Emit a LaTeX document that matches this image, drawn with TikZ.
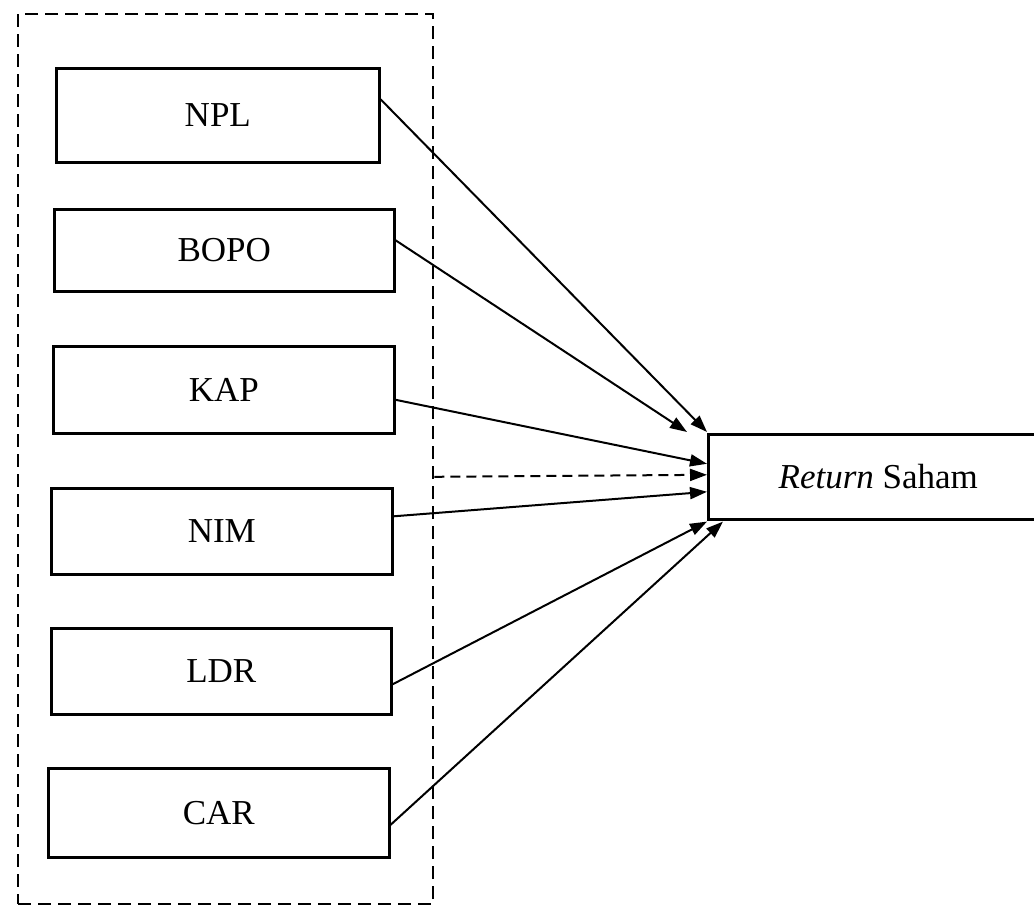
\documentclass[tikz,border=0pt]{standalone}
\usepackage{fontspec}
\setmainfont{Liberation Serif}
\usetikzlibrary{arrows.meta}
\begin{document}
\begin{tikzpicture}[x=1pt,y=-1pt,
  varbox/.style={draw, line width=2.6pt, inner sep=0pt, anchor=north west,
    font=\fontsize{35}{40}\selectfont},
  link/.style={line width=2pt, -{Triangle[length=17pt,width=12pt]}},
  grp/.style={draw, line width=2.4pt, dash pattern=on 13pt off 7pt, inner sep=0pt, anchor=north west}
]
\useasboundingbox (0,0) rectangle (1034,908);
\clip (0,0) rectangle (1034,908);
\node[grp, minimum width=415pt, minimum height=890pt] (grp) at (17,13) {};
\node[varbox, minimum width=323pt, minimum height=94pt] (npl) at (55,67) {NPL};
\node[varbox, minimum width=340pt, minimum height=82pt] (bopo) at (53,208) {BOPO};
\node[varbox, minimum width=341pt, minimum height=87pt] (kap) at (52,345) {KAP};
\node[varbox, minimum width=341pt, minimum height=86pt] (nim) at (50,487) {NIM};
\node[varbox, minimum width=340pt, minimum height=86pt] (ldr) at (50,627) {LDR};
\node[varbox, minimum width=341pt, minimum height=89pt] (car) at (47,767) {CAR};
\node[varbox, minimum width=340pt, minimum height=85pt] (ret) at (707,433) {\textit{Return} Saham\hspace{20pt}};

\draw[link] ([yshift=16pt]npl.east) -- ([yshift=1pt]ret.north west);
\draw[link] ([yshift=10pt]bopo.east) -- ([xshift=-20pt,yshift=1pt]ret.north west);
\draw[link] ([yshift=-10pt]kap.east) -- ([yshift=13pt]ret.west);
\draw[link, dash pattern=on 10pt off 6pt] (grp.east |- ret.west) -- ([yshift=2pt]ret.west);
\draw[link] ([yshift=15pt]nim.east) -- ([yshift=-15pt]ret.west);
\draw[link] ([yshift=-13pt]ldr.east) -- ([yshift=-1pt]ret.south west);
\draw[link] ([yshift=-12pt]car.east) -- ([xshift=16pt,yshift=-1pt]ret.south west);
\end{tikzpicture}
\end{document}
